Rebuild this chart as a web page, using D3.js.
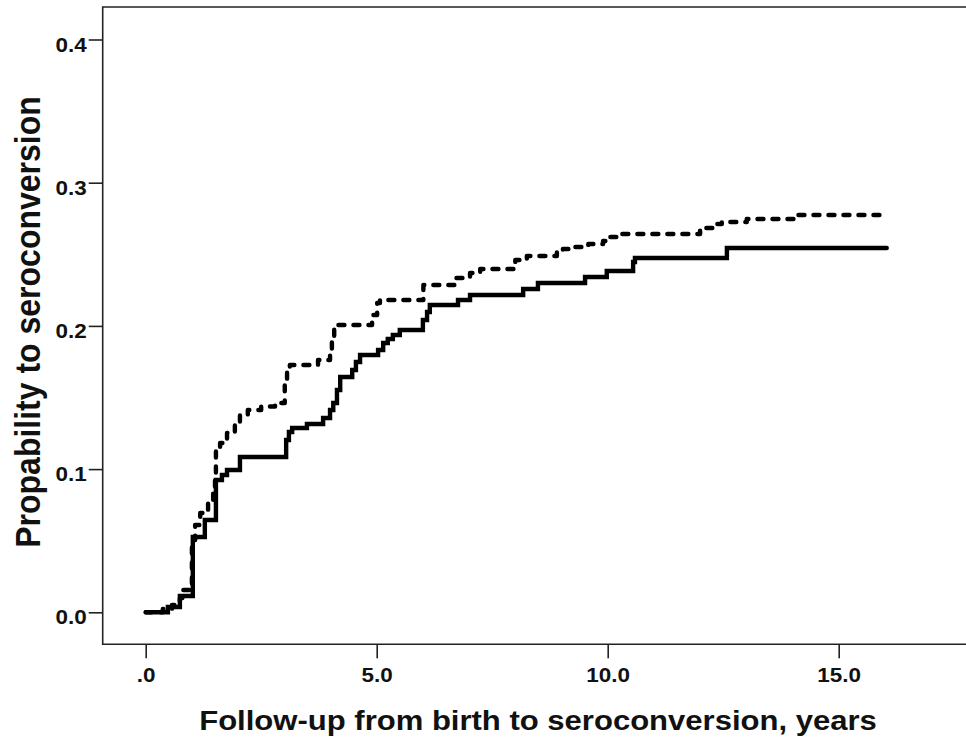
<!DOCTYPE html>
<html><head><meta charset="utf-8">
<script src="https://cdn.jsdelivr.net/npm/d3@7"></script>
<style>body{margin:0;background:#fff}svg{display:block}</style>
</head><body>
<svg id="c" width="966" height="743"></svg>
<script>
// Data (Kaplan-Meier style cumulative probability, step after)
const solidTimes = [0,0.48,0.74,1.02,1.28,1.52,1.65,1.76,2.04,3.04,3.10,3.17,3.49,3.84,3.99,4.06,4.14,4.21,4.47,4.55,4.64,5.03,5.14,5.24,5.35,5.50,6.00,6.09,6.15,6.76,7.02,8.17,8.49,9.51,9.98,10.55,10.59,12.58,16.04];
const solidProbs = [0,0.0037,0.0114,0.0526,0.0645,0.0924,0.0959,0.0994,0.1085,0.1203,0.1259,0.1287,0.1315,0.1357,0.1413,0.1462,0.1552,0.1643,0.1692,0.1748,0.1797,0.1832,0.1881,0.1909,0.1936,0.1971,0.2041,0.2097,0.2146,0.2181,0.2216,0.2258,0.2300,0.2341,0.2383,0.2446,0.2474,0.2544,0.2544];
const dashedTimes = [0,0.37,0.57,0.74,0.81,1.00,1.07,1.18,1.35,1.46,1.50,1.52,1.61,1.76,1.93,2.04,2.21,2.50,2.80,3.01,3.06,3.12,3.73,3.99,4.03,4.08,4.16,4.90,5.01,5.07,6.01,6.70,7.02,7.24,8.00,8.25,8.90,9.03,9.29,9.58,9.90,10.05,10.27,12.00,12.28,12.47,13.01,14.05,16.04];
const dashedProbs = [0,0.0023,0.0051,0.0100,0.0156,0.0505,0.0610,0.0693,0.0770,0.0854,0.0938,0.1154,0.1182,0.1252,0.1315,0.1378,0.1413,0.1437,0.1462,0.1622,0.1706,0.1727,0.1762,0.1818,0.1902,0.1985,0.2006,0.2076,0.2160,0.2181,0.2286,0.2334,0.2369,0.2397,0.2460,0.2488,0.2516,0.2537,0.2551,0.2572,0.2593,0.2621,0.2642,0.2684,0.2712,0.2726,0.2746,0.2774,0.2774];
const xTicks = [0,5,10,15];
const xTickLabels = [".0","5.0","10.0","15.0"];
const yTicks = [0,0.1,0.2,0.3,0.4];
const yTickLabels = ["0.0","0.1","0.2","0.3","0.4"];
const xTitle = "Follow-up from birth to seroconversion, years";
const yTitle = "Propability to seroconversion";

(function(){
const svg = d3.select("#c");
const font = "'Liberation Sans', Arial, sans-serif";
const x = d3.scaleLinear().domain([0,15]).range([145.7,838.7]);
const y = d3.scaleLinear().domain([0,0.4]).range([612.3,39.5]);
const pLeft = 102.7, pTop = 7, pBottom = 644.3, pRight = 970;

// frame
svg.append("path").attr("d",`M${pRight},${pTop}H${pLeft}V${pBottom}H${pRight}`)
  .attr("fill","none").attr("stroke","#222").attr("stroke-width",1.6);

// x axis
const xa = svg.append("g").attr("transform",`translate(0,${pBottom})`)
  .call(d3.axisBottom(x).tickValues(xTicks).tickFormat((d,i)=>xTickLabels[i]).tickSize(14).tickPadding(9));
xa.select(".domain").remove();
xa.selectAll("line").attr("stroke","#222").attr("stroke-width",1.6);
xa.selectAll("text").attr("font-family",font).attr("font-weight","bold").attr("font-size",21).attr("fill","#111")
  .attr("transform","scale(1.07,1)").attr("x",0);

// y axis
const ya = svg.append("g").attr("transform",`translate(${pLeft},0)`)
  .call(d3.axisLeft(y).tickValues(yTicks).tickFormat((d,i)=>yTickLabels[i]).tickSize(14).tickPadding(2));
ya.select(".domain").remove();
ya.selectAll("line").attr("stroke","#222").attr("stroke-width",1.6);
ya.selectAll("text").attr("font-family",font).attr("font-weight","bold").attr("font-size",21).attr("fill","#111")
  .attr("dy","0.55em").attr("x",-15).attr("transform","scale(1.07,1)");

const line = d3.line().x(d=>x(d[0])).y(d=>y(d[1])).curve(d3.curveStepAfter);
svg.append("path").datum(dashedTimes.map((t,i)=>[t,dashedProbs[i]]))
  .attr("d",line).attr("fill","none").attr("stroke","#000").attr("stroke-width",4.4)
  .attr("stroke-dasharray","6,9").attr("stroke-linecap","round").attr("stroke-linejoin","round");
svg.append("path").datum(solidTimes.map((t,i)=>[t,solidProbs[i]]))
  .attr("d",line).attr("fill","none").attr("stroke","#000").attr("stroke-width",4.4)
  .attr("stroke-linecap","round").attr("stroke-linejoin","miter");

svg.append("text").attr("transform","translate(538,730) scale(1.15,1)").attr("text-anchor","middle")
  .attr("font-family",font).attr("font-weight","bold").attr("font-size",27).attr("fill","#111").text(xTitle);
svg.append("text").attr("transform","translate(40,322) scale(1.12,1) rotate(-90)").attr("text-anchor","middle")
  .attr("font-family",font).attr("font-weight","bold").attr("font-size",32).attr("fill","#111").text(yTitle);
})();
</script>
</body></html>
